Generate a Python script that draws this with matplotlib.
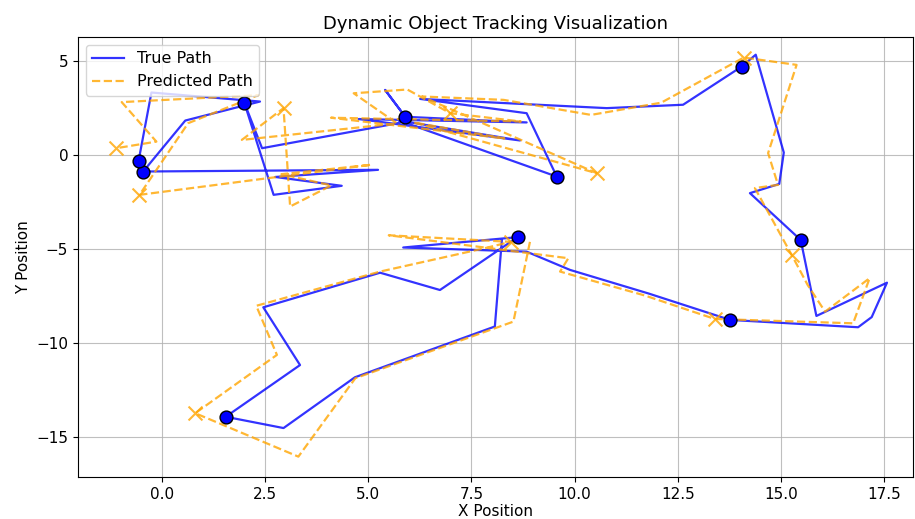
import numpy as np
import matplotlib
matplotlib.use("Agg")
import matplotlib.pyplot as plt

# -------------------------
# DATA
# -------------------------
true_x = [8.24, 8.07, 4.68, 2.95, 1.55, 3.35, 2.46, 5.29, 6.74, 8.62,
          5.85, 8.84, 9.89, 11.80, 13.77, 16.87, 17.20, 17.57, 15.86, 15.48,
          14.25, 14.96, 15.07, 14.39, 14.05, 12.63, 10.78, 6.26, 8.84, 9.57,
          5.75, 8.68, 4.77, 8.84, 5.90, 5.41, 5.95, 5.70, 2.43, 2.00,
          2.71, 4.36, 2.75, 5.24, -0.45, 0.57, 2.00, 2.38, -0.25, -0.56]
true_y = [-4.50, -9.10, -11.80, -14.50, -13.90, -11.15, -8.08, -6.24, -7.16, -4.35,
          -4.90, -5.12, -6.09, -7.35, -8.75, -9.14, -8.60, -6.77, -8.54, -4.50,
          -2.01, -1.52, 0.15, 5.35, 4.72, 2.69, 2.51, 3.00, 2.24, -1.13,
          1.85, 0.79, 1.93, 1.75, 2.05, 3.48, 1.90, 1.70, 0.38, 2.80,
          -2.10, -1.62, -1.15, -0.77, -0.86, 1.85, 2.65, 2.86, 3.34, -0.28]

pred_x = [8.92, 8.52, 4.69, 3.31, 0.81, 2.79, 2.29, 5.29, 7.80, 8.45,
          5.50, 9.85, 9.65, 11.70, 13.40, 16.75, 17.15, 16.07, 15.65, 15.26,
          14.37, 14.93, 14.69, 15.38, 14.10, 12.10, 10.40, 8.28, 6.30, 10.54,
          6.10, 8.30, 4.10, 8.70, 6.99, 5.95, 4.65, 5.70, 1.94, 2.95,
          3.11, 4.11, 2.90, 5.08, -0.54, 0.64, 2.34, -0.97, -0.13, -1.10]
pred_y = [-4.60, -8.84, -11.85, -16.02, -13.71, -10.61, -8.00, -6.18, -4.95, -4.60,
          -4.25, -5.47, -6.18, -7.45, -8.70, -8.93, -6.53, -8.31, -6.90, -5.29,
          -1.74, -1.57, 0.12, 4.81, 5.20, 2.80, 2.15, 2.95, 3.13, -0.95,
          1.75, 0.90, 2.00, 1.80, 2.24, 3.50, 3.30, 1.70, 0.82, 2.51,
          -2.72, -1.60, -1.00, -0.50, -2.10, 1.71, 3.20, 2.83, 0.73, 0.38]

# measurement points every 5 steps
step = 5

true_x = np.array(true_x)
true_y = np.array(true_y)
pred_x = np.array(pred_x)
pred_y = np.array(pred_y)

plt.rcParams['font.size'] = 11

# -------------------------
# PLOT
# -------------------------
fig = plt.figure(figsize=(9.15, 5.19), dpi=100)
ax = fig.add_axes([0.0852, 0.081, 0.9126, 0.848])

ax.plot(true_x, true_y, color='blue', alpha=0.8, linewidth=1.6, label='True Path')
ax.plot(pred_x, pred_y, color='orange', alpha=0.8, linewidth=1.6,
        linestyle='--', label='Predicted Path')

ax.scatter(pred_x[step - 1::step], pred_y[step - 1::step],
           marker='x', s=100, color='orange', linewidths=1.5, alpha=0.8, zorder=3)
ax.scatter(true_x[step - 1::step], true_y[step - 1::step],
           marker='o', s=85, color='blue', edgecolor='black', zorder=4)

ax.set_xlim(-2.03, 18.2)
ax.set_ylim(-17.1, 6.3)
ax.set_title("Dynamic Object Tracking Visualization", fontsize=13)
ax.set_xlabel("X Position", labelpad=1.5)
ax.set_ylabel("Y Position")
ax.legend(loc='upper left', fontsize=11.5)
ax.grid(True, alpha=0.8)

plt.savefig("out.png", dpi=100)
plt.close()
